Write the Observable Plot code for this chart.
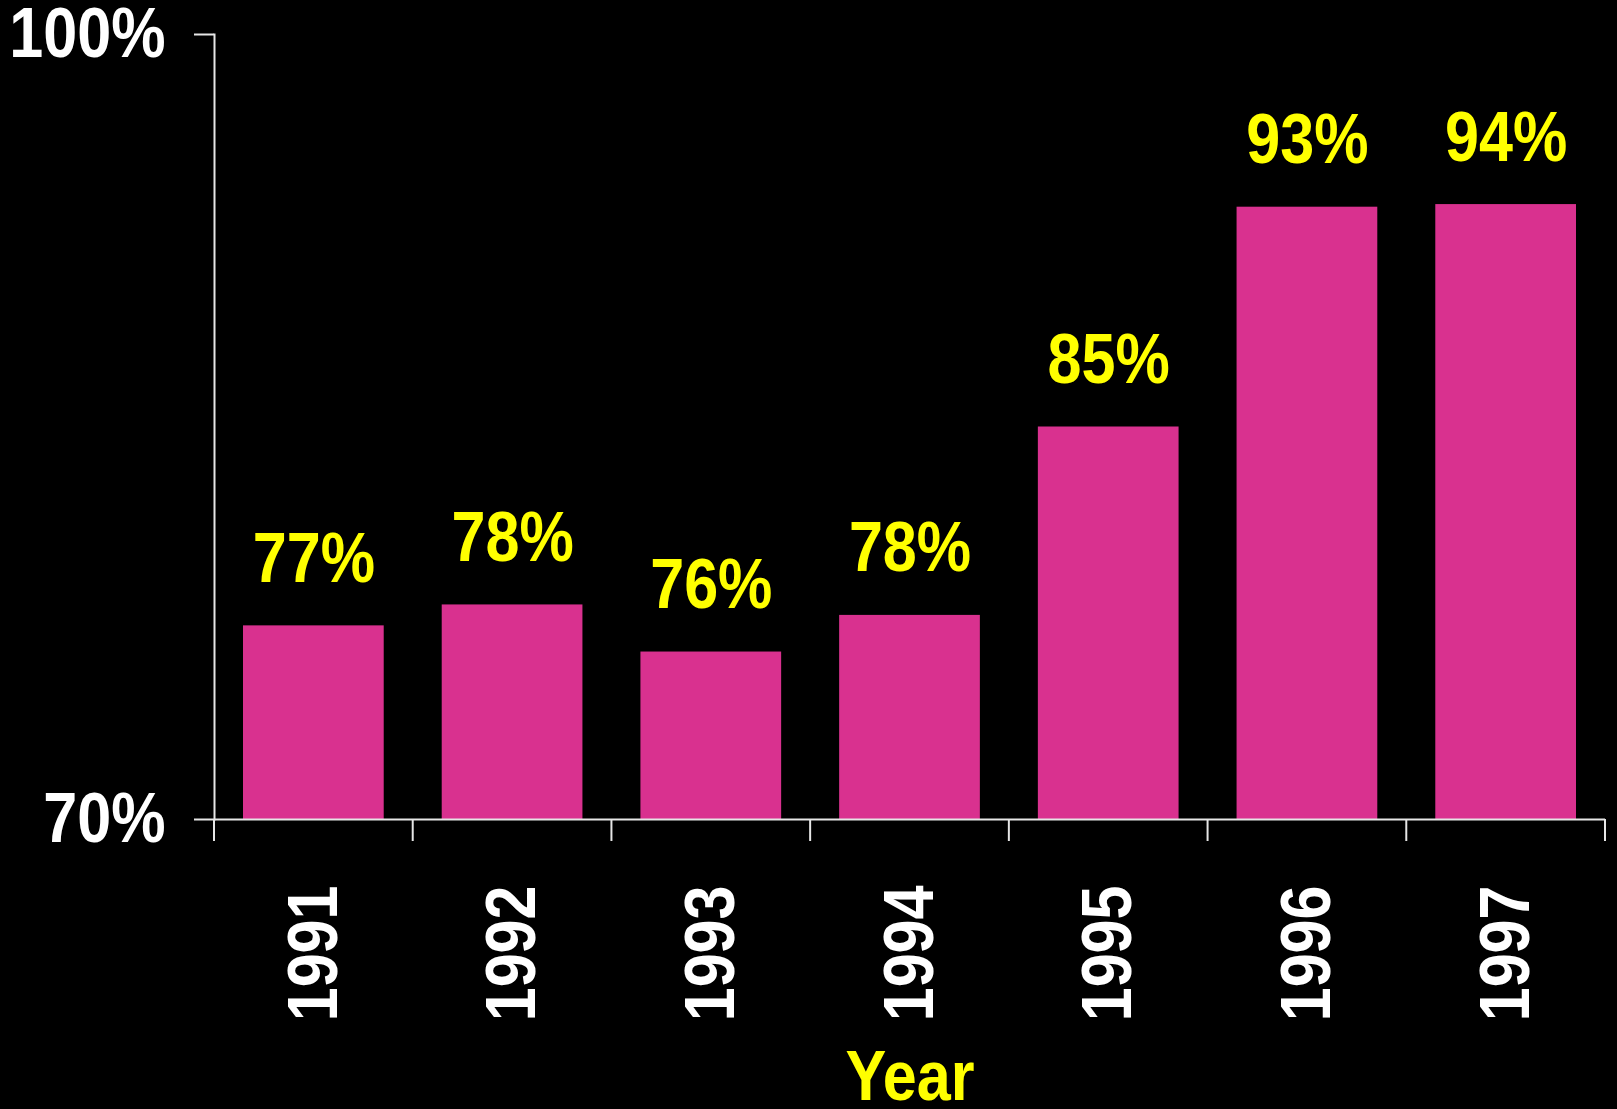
<!DOCTYPE html>
<html>
<head>
<meta charset="utf-8">
<script src="https://cdn.jsdelivr.net/npm/d3@7"></script>
<script src="https://cdn.jsdelivr.net/npm/@observablehq/plot@0.6"></script>
<style>
  html, body { margin: 0; padding: 0; background: #000; }
  #chart svg { display: block; }
</style>
</head>
<body>
<div id="chart"></div>
<script>
const years = ["1991", "1992", "1993", "1994", "1995", "1996", "1997"];
const values = [77.4, 78.2, 76.4, 77.8, 85.0, 93.4, 93.5];
const valueLabels = ["77%", "78%", "76%", "78%", "85%", "93%", "94%"];
const yTicks = [70, 100];
const xTitle = "Year";

const data = years.map((y, i) => ({year: y, value: values[i], label: valueLabels[i]}));

const FONT = '"Liberation Sans", Arial, sans-serif';
const NARROW = 0.86; // emulate Arial Narrow Bold
const BAR = "#D9318F";
const YELLOW = "#FFFF00";
const AXIS = "#E6E6E6";

// tick marks at band boundaries, positioned from the band scale
function boundaryTicks(index, scales, values, dims) {
  const x = scales.x;
  const bw = x.bandwidth ? x.bandwidth() : 0;
  const y0 = scales.y(70);
  const g = d3.create("svg:g");
  const positions = years.map(y => x(y)).concat([x(years[years.length - 1]) + bw]);
  for (const p of positions) {
    g.append("line")
      .attr("x1", p).attr("x2", p)
      .attr("y1", y0).attr("y2", y0 + 22)
      .attr("stroke", AXIS).attr("stroke-width", 2);
  }
  return g.node();
}

const chart = Plot.plot({
  width: 1617,
  height: 1109,
  marginLeft: 214,
  marginRight: 12,
  marginTop: 34,
  marginBottom: 290,
  style: {background: "#000", color: "#fff", fontFamily: FONT, fontWeight: "bold", overflow: "visible"},
  x: {domain: years, padding: 0, round: false, label: null},
  y: {domain: [70, 100], label: null},
  marks: [
    Plot.barY(data, {x: "year", y1: 70, y2: "value", fill: BAR, insetLeft: 29, insetRight: 29}),
    Plot.text(data, {x: "year", y: "value", text: "label", fill: YELLOW, fontSize: 71, fontWeight: "bold", lineAnchor: "bottom", dy: -44}),
    Plot.frame({anchor: "left", stroke: AXIS, strokeWidth: 2}),
    Plot.ruleY([70], {stroke: AXIS, strokeWidth: 2}),
    boundaryTicks,
    Plot.axisY({ticks: yTicks, tickFormat: d => d + "%", tickSize: 20, tickPadding: 29, fontSize: 71, fontWeight: "bold", stroke: AXIS, strokeWidth: 2, fill: "#fff", label: null}),
    Plot.axisX({tickRotate: -90, tickSize: 0, tickPadding: 66, fontSize: 71, fontWeight: "bold", fill: "#fff", label: null}),
    Plot.text([xTitle], {frameAnchor: "bottom", dy: 280, fill: YELLOW, fontSize: 71, fontWeight: "bold", lineAnchor: "bottom"})
  ]
});

document.getElementById("chart").append(chart);

// condense all text along its reading direction (emulates a narrow bold face)
d3.select(chart).selectAll("text").each(function() {
  const L = this.getComputedTextLength();
  if (L > 0) {
    this.setAttribute("textLength", (L * NARROW).toFixed(2));
    this.setAttribute("lengthAdjust", "spacingAndGlyphs");
  }
});
</script>
</body>
</html>
